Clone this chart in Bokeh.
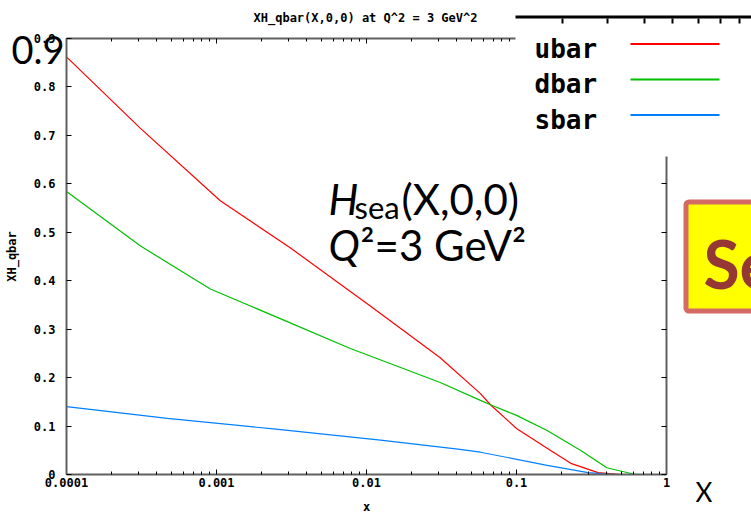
import math
from bokeh.plotting import figure
from bokeh.models import (LogAxis, LinearAxis, FixedTicker, NumeralTickFormatter,
                          Label, BoxAnnotation, Range1d)
from bokeh.embed import file_html
from bokeh.resources import INLINE

# ---- data ----
x_ubar = [1e-4, 3.1e-4, 1.06e-3, 3.1e-3, 1.06e-2, 3.1e-2, 5.75e-2, 6.7e-2, 0.10, 0.16, 0.23, 0.35, 0.50]
ubar   = [0.862, 0.715, 0.565, 0.468, 0.348, 0.241, 0.167, 0.144, 0.095, 0.054, 0.023, 0.004, 0.0]

x_dbar = [1e-4, 3.1e-4, 9.1e-4, 3.1e-3, 7.8e-3, 3.1e-2, 5.75e-2, 6.7e-2, 0.10, 0.16, 0.27, 0.40, 0.60, 0.67]
dbar   = [0.584, 0.472, 0.383, 0.313, 0.260, 0.190, 0.153, 0.144, 0.122, 0.091, 0.049, 0.014, 0.001, 0.0]

x_sbar = [1e-4, 4.7e-4, 2.4e-3, 1.24e-2, 4.2e-2, 5.75e-2, 0.16, 0.30, 0.45]
sbar   = [0.140, 0.116, 0.094, 0.071, 0.052, 0.046, 0.019, 0.004, 0.0]

series_names  = ["ubar", "dbar", "sbar"]
series_colors = ["#ff0000", "#00c000", "#0080ff"]

x_major_ticks = [1e-4, 1e-3, 1e-2, 1e-1, 1.0]
y_ticks = [0.0, 0.1, 0.2, 0.3, 0.4, 0.5, 0.6, 0.7, 0.8, 0.9]

title_text = "XH_qbar(X,0,0) at Q^2 = 3 GeV^2"
x_label = "x"
y_label = "XH_qbar"

MONO = "DejaVu Sans Mono"
SANS = "Lato"

# ---- layout: the data box sits at these canvas pixels; the frame covers the whole canvas ----
W, H = 751, 517
FL, FR, FT, FB = 66, 666, 38, 474
X0, X1 = x_major_ticks[0], x_major_ticks[-1]
Y0, Y1 = y_ticks[0], y_ticks[-1]
dec_px = (FR - FL) / (math.log10(X1) - math.log10(X0))
x_start = 10 ** (math.log10(X0) - FL / dec_px)
x_end = 10 ** (math.log10(X1) + (W - FR) / dec_px)
unit_px = (FB - FT) / (Y1 - Y0)
y_start = Y0 - (H - FB) / unit_px
y_end = Y1 + FT / unit_px

x_minor_ticks = [k * t for t in x_major_ticks[:-1] for k in range(2, 10)]

p = figure(width=W, height=H, x_axis_type="log",
           x_range=Range1d(x_start, x_end), y_range=Range1d(y_start, y_end),
           output_backend="svg", toolbar_location=None,
           min_border=0, min_border_left=0, min_border_right=0,
           min_border_top=0, min_border_bottom=0,
           background_fill_color="white", border_fill_color="white")
p.outline_line_color = None
p.grid.visible = False

def style_axis(ax):
    ax.axis_line_color = "#606060"
    ax.axis_line_width = 2
    ax.major_tick_line_color = "black"
    ax.minor_tick_line_color = "black"
    ax.major_tick_in = 5
    ax.major_tick_out = 0
    ax.minor_tick_in = 3
    ax.minor_tick_out = 0
    ax.major_label_text_font = MONO
    ax.major_label_text_font_style = "bold"
    ax.major_label_text_font_size = "12px"
    ax.major_label_text_color = "black"
    ax.axis_label_text_font = MONO
    ax.axis_label_text_font_style = "bold"
    ax.axis_label_text_font_size = "12px"
    ax.axis_label_text_color = "black"

xa = p.xaxis[0]
xa.ticker = FixedTicker(ticks=x_major_ticks, minor_ticks=x_minor_ticks)
xa.formatter = NumeralTickFormatter(format="0.[0000]")
style_axis(xa)
xa.bounds = (X0, X1)
xa.fixed_location = Y0
xa.major_label_standoff = 3
xa.axis_label = x_label
xa.axis_label_standoff = 10

ya = p.yaxis[0]
ya.ticker = FixedTicker(ticks=y_ticks)
ya.formatter = NumeralTickFormatter(format="0.[0]")
style_axis(ya)
ya.bounds = (Y0, Y1)
ya.fixed_location = X0
ya.major_label_standoff = 11
ya.axis_label = y_label
ya.axis_label_standoff = 12

top = LogAxis(ticker=FixedTicker(ticks=x_major_ticks, minor_ticks=x_minor_ticks))
style_axis(top)
top.major_label_text_color = None
top.bounds = (X0, X1)
top.fixed_location = Y1
p.add_layout(top, "above")

right = LinearAxis(ticker=FixedTicker(ticks=y_ticks))
style_axis(right)
right.major_label_text_color = None
right.bounds = (Y0, Y1)
right.fixed_location = X1
p.add_layout(right, "right")

# ---- curves ----
for xs, ys, name, col in [(x_ubar, ubar, "ubar", series_colors[0]),
                          (x_dbar, dbar, "dbar", series_colors[1]),
                          (x_sbar, sbar, "sbar", series_colors[2])]:
    p.line(xs, ys, line_color=col, line_width=1.2, name=name)

# helpers: canvas pixel (from top-left) -> screen units of the (full-canvas) frame
def sx(px):
    return px

def sy(py):
    return H - py

def label(text, px, py, **kw):
    lab = Label(x=sx(px), y=sy(py), x_units="screen", y_units="screen", text=text, **kw)
    p.add_layout(lab)
    return lab

def box(l, r, t, b, **kw):
    bx = BoxAnnotation(left=sx(l), right=sx(r), top=sy(t), bottom=sy(b),
                       left_units="screen", right_units="screen",
                       top_units="screen", bottom_units="screen", **kw)
    p.add_layout(bx)
    return bx

# title (gnuplot style)
label(title_text, 365, 17, text_font=MONO, text_font_style="bold", text_font_size="12px",
      text_align="center", text_baseline="middle", text_color="black")

# pasted legend panel (white background covering the top-right corner)
box(515, 760, -5, 156, fill_color="white", fill_alpha=1.0, line_color=None)
box(515, 760, 15, 18, fill_color="black", fill_alpha=1.0, line_color=None)
strip_ticks_px = [562, 607, 644, 672, 698, 720, 739]
for tx in strip_ticks_px:
    box(tx - 1, tx + 1, 18, 23, fill_color="black", fill_alpha=1.0, line_color=None)

legend_baselines_px = [48, 83.5, 119]
legend_lines_px = [43.5, 79, 114.5]
for name, col, bl, ly in zip(series_names, series_colors, legend_baselines_px, legend_lines_px):
    label(name, 534, bl, text_font=MONO, text_font_style="bold", text_font_size="26px",
          text_baseline="alphabetic", text_color="black")
    box(630, 719, ly - 1, ly + 1, fill_color=col, fill_alpha=1.0, line_color=None)

# slide overlays
label("0.9", 11, 49, text_font=SANS, text_font_size="38px", text_baseline="alphabetic",
      text_color="black")
label("X", 695, 491, text_font=SANS, text_font_size="26px", text_baseline="alphabetic",
      text_color="black")

label("H", 328, 198, text_font=SANS, text_font_style="italic", text_font_size="42px",
      text_baseline="alphabetic", text_color="black")
label("sea", 354, 206, text_font=SANS, text_font_size="31px",
      text_baseline="alphabetic", text_color="black")
label("(X,0,0)", 401, 198, text_font=SANS, text_font_size="42px",
      text_baseline="alphabetic", text_color="black")
label("Q", 328, 244, text_font=SANS, text_font_style="italic", text_font_size="42px",
      text_baseline="alphabetic", text_color="black")
label("\u00b2=3 GeV\u00b2", 360, 244, text_font=SANS, text_font_size="42px",
      text_baseline="alphabetic", text_color="black")

# yellow callout box (partially outside the slide)
box(685.5, 780, 201.5, 310.5, fill_color="#ffff00", fill_alpha=1.0,
    line_color="#d46a63", line_alpha=1.0, line_width=5, border_radius=3)
label("Se", 703, 263, text_font=SANS, text_font_style="bold", text_font_size="66px",
      text_baseline="alphabetic", text_color="#953735")

open("out.html", "w").write(file_html(p, INLINE))
